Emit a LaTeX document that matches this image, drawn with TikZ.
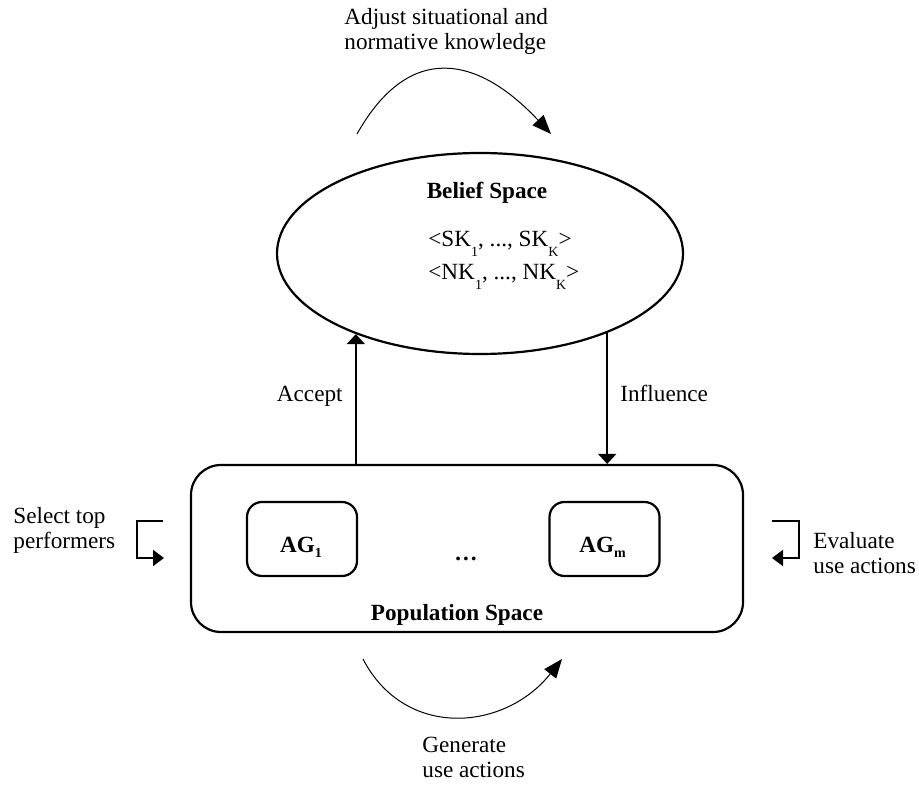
\documentclass[tikz,border=0pt]{standalone}
\usepackage{fontspec}
\setmainfont{Liberation Serif}
\usetikzlibrary{arrows.meta,shapes.geometric,positioning}
\AtBeginDocument{\fontsize{11.6}{12.5}\selectfont}
\newcommand{\sbs}[2][5pt]{\raisebox{-#1}{\fontsize{7}{7}\selectfont #2}}

\begin{document}
\begin{tikzpicture}
  [x=0.5pt, y=-0.5pt,
   space/.style={draw, line width=1.1pt, inner sep=0pt},
   agbox/.style={draw, line width=1.1pt, rounded corners=7.5pt,
                 minimum width=55pt, minimum height=37pt},
   txt/.style={inner sep=0pt, align=left},
   flow/.style={-{Triangle[length=5pt,width=9pt]}, line width=1pt},
   loop/.style={-{Triangle[length=9.5pt,width=7.5pt]}, line width=0.5pt},
   turn/.style={-{Triangle[length=5.5pt,width=8pt]}, line width=1pt}]

  \useasboundingbox (0,0) rectangle (919,785);

  % the two spaces
  \node[space, ellipse, minimum width=203pt, minimum height=100.5pt] (belief) at (480,253.5) {};
  \node[space, rounded corners=15pt, minimum width=276pt, minimum height=83.5pt] (pop) at (467,548.5) {};

  \node[txt, font=\bfseries, anchor=base] (belief title) at (487,199) {Belief Space};
  \node[txt, anchor=base west] (sk) at (428,247) {<SK\sbs{1}, ..., SK\sbs{K}>};
  \node[txt, anchor=base west] (nk) at (428,280) {<NK\sbs{1}, ..., NK\sbs{K}>};

  % agents
  \node[agbox] (ag1) at (302,539) {};
  \node[agbox] (agm) at (604.5,539) {};
  \node[txt, font=\bfseries, anchor=base] (ag1 label) at (301,552) {AG\sbs[2.5pt]{1}};
  \node[txt, font=\bfseries, anchor=base] (agm label) at (602.5,552) {AG\sbs[2.5pt]{m}};
  \node[txt, font=\bfseries, anchor=base] (dots) at (466,560) {…};
  \node[txt, font=\bfseries, anchor=base] (pop title) at (457,620) {Population Space};

  % accept / influence
  \draw[flow] (belief.213 |- pop.north) -- (belief.213);
  \draw[flow] (belief.-32.4) -- (belief.-32.4 |- pop.north);
  \node[txt, anchor=base east] (accept) at (343,401) {Accept};
  \node[txt, anchor=base west] (influence) at (620,401) {Influence};

  % adjust / generate
  \coordinate (adjust from) at (357,134);
  \coordinate (adjust to)   at (551,134);
  \draw[loop] (adjust from) .. controls (410,40) and (479,57) .. (adjust to);
  \node[txt, anchor=base west] (adjust) at (344,50) {Adjust situational and\\normative knowledge};

  \coordinate (generate from) at (363,659);
  \coordinate (generate to)   at (562,659);
  \draw[loop] (generate from) .. controls (405,740) and (505,731) .. (generate to);
  \node[txt, anchor=base west] (generate) at (422,777) {Generate\\use actions};

  % select / evaluate
  \coordinate (select in)  at (163,521);
  \coordinate (select out) at (164,558);
  \draw[turn] (select in) -- ++(-26,0) |- (select out);
  \node[txt, anchor=base west] (select) at (13,548) {Select top\\performers};

  \coordinate (evaluate in)  at (772,521);
  \coordinate (evaluate out) at (772,558);
  \draw[turn] (evaluate in) -- ++(27,0) |- (evaluate out);
  \node[txt, anchor=base west] (evaluate) at (813,573) {Evaluate\\use actions};
\end{tikzpicture}
\end{document}
